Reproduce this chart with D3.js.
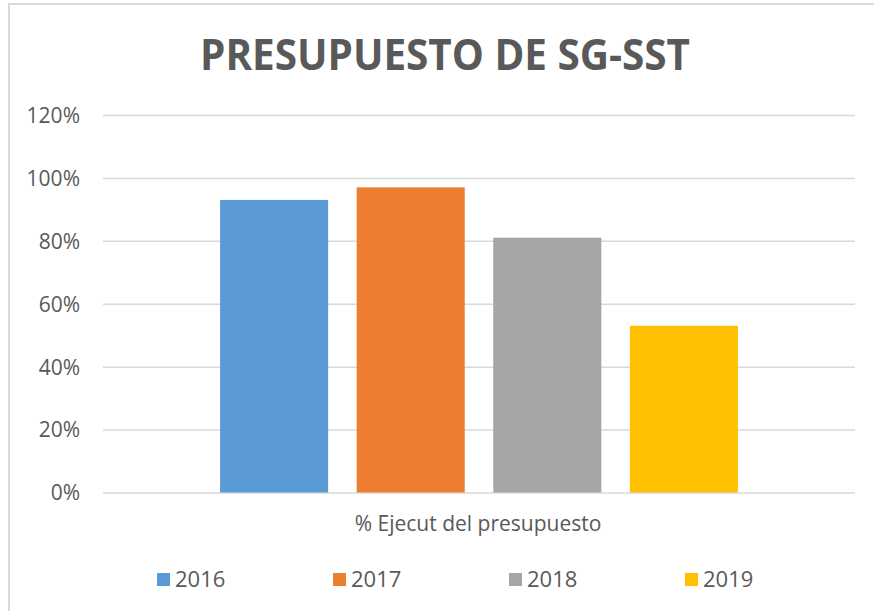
<!DOCTYPE html>
<html><head><meta charset="utf-8">
<script src="https://cdn.jsdelivr.net/npm/d3@7"></script>
<style>body{margin:0;background:#fff}svg{display:block}text{font-family:"Open Sans",sans-serif;fill:#595959}</style>
</head><body><svg id="c" width="874" height="611"></svg>
<script>
const title = "PRESUPUESTO DE SG-SST";
const category = "% Ejecut del presupuesto";
const years = ["2016","2017","2018","2019"];
const values = [0.93, 0.97, 0.81, 0.53];
const colors = ["#5b9bd5","#ed7d31","#a5a5a5","#ffc000"];
const yTicks = [0,0.2,0.4,0.6,0.8,1.0,1.2];

const svg = d3.select("#c");
svg.append("rect").attr("x",9).attr("y",4).attr("width",880).attr("height",620)
  .attr("fill","#fff").attr("stroke","#d9d9d9").attr("stroke-width",2);

svg.append("text").attr("x",445).attr("y",70).attr("text-anchor","middle")
  .attr("font-size",43).attr("font-weight","bold").attr("textLength",490)
  .attr("lengthAdjust","spacingAndGlyphs").text(title);

const y = d3.scaleLinear().domain([0,1.2]).range([492.5,115]);
const x = d3.scaleBand().domain(years).range([103,855]).paddingInner(0.209).paddingOuter(0.857);

const g = svg.append("g").attr("transform","translate(103,0)")
  .call(d3.axisLeft(y).tickValues(yTicks).tickFormat(d3.format(".0%")).tickSize(-752).tickPadding(23));
g.select(".domain").remove();
g.selectAll(".tick line").attr("stroke","#d9d9d9").attr("stroke-width",1.5);
g.selectAll(".tick text").attr("font-size",21).attr("fill","#595959").attr("font-family","Open Sans, sans-serif").attr("dy","0.35em");

svg.append("g").selectAll("rect").data(years).join("rect")
  .attr("x",d=>x(d)).attr("width",x.bandwidth())
  .attr("y",(d,i)=>y(values[i])).attr("height",(d,i)=>y(0)-y(values[i]))
  .attr("fill",(d,i)=>colors[i]);

svg.append("text").attr("x",478).attr("y",531).attr("text-anchor","middle").attr("font-size",21).text(category);

const lx = d3.scalePoint().domain(years).range([157,685]);
const lg = svg.append("g").selectAll("g").data(years).join("g").attr("transform",d=>`translate(${lx(d)},0)`);
lg.append("rect").attr("x",0).attr("y",573).attr("width",13).attr("height",13).attr("fill",(d,i)=>colors[i]);
lg.append("text").attr("x",18).attr("y",587).attr("font-size",22).text(d=>d);
</script></body></html>
